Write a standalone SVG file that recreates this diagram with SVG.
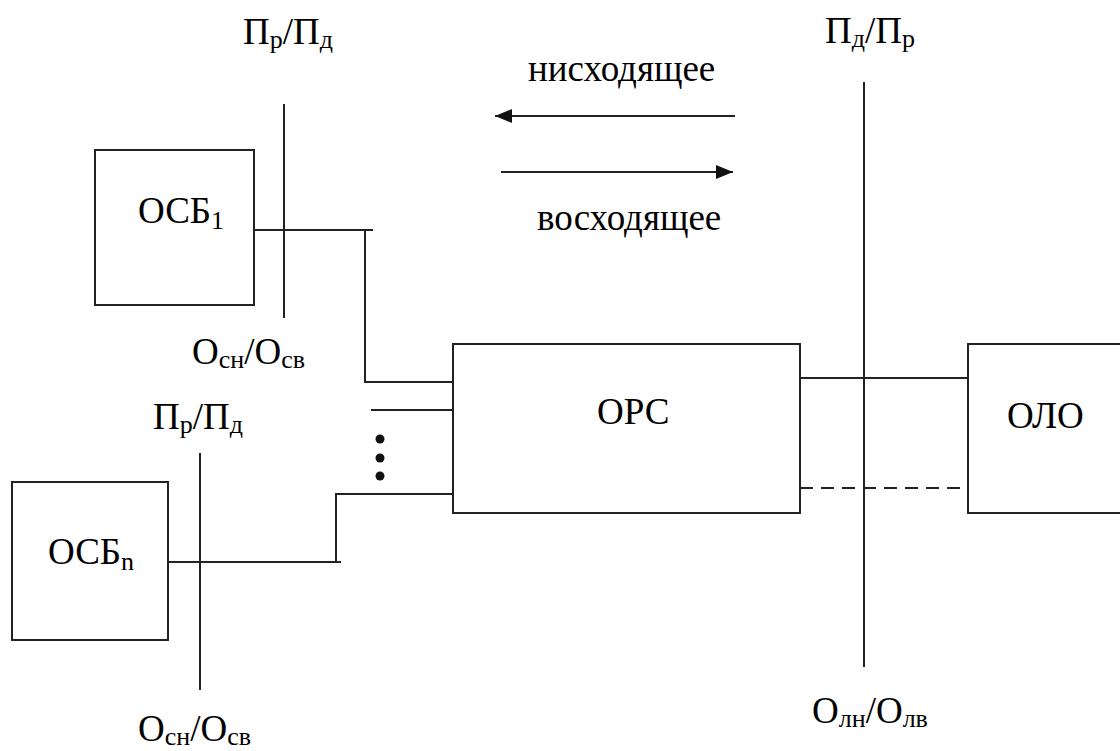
<svg xmlns="http://www.w3.org/2000/svg" width="1120" height="751" viewBox="0 0 1120 751">
<style>
.ln{stroke:#222;stroke-width:2;fill:none}
.bx{stroke:#222;stroke-width:2;fill:#fff}
.dash{stroke-dasharray:13 8}
text{font-family:'Liberation Serif','DejaVu Serif',serif;font-size:37px;fill:#000}
.sub{font-size:26px}
</style>
<defs>
<marker id="ah" markerUnits="userSpaceOnUse" markerWidth="18" markerHeight="16" refX="17" refY="8" orient="auto">
<path d="M0,1 L17,8 L0,15 Z" fill="#111"/>
</marker>
</defs>
<rect width="1120" height="751" fill="#fff"/>
<g id="connectors">
<line class="ln" x1="284" y1="104" x2="284" y2="318"/>
<polyline class="ln" points="252,230 373,230"/>
<polyline class="ln" points="365,230 365,382 453,382"/>
<line class="ln" x1="371" y1="410" x2="453" y2="410"/>
<polyline class="ln" points="453,494 336,494 336,562"/>
<line class="ln" x1="166" y1="562" x2="341" y2="562"/>
<line class="ln" x1="200" y1="453" x2="200" y2="690"/>
<line class="ln" x1="864" y1="82" x2="864" y2="667"/>
<line class="ln" x1="800" y1="378" x2="968" y2="378"/>
<line class="ln dash" x1="800" y1="488" x2="968" y2="488"/>
<line class="ln" x1="735" y1="116" x2="495" y2="116" marker-end="url(#ah)"/>
<line class="ln" x1="501" y1="172" x2="733" y2="172" marker-end="url(#ah)"/>
<circle cx="380" cy="439" r="4.5" fill="#111"/>
<circle cx="380" cy="458" r="4.5" fill="#111"/>
<circle cx="380" cy="476" r="4.5" fill="#111"/>
</g>
<g id="osb1">
<rect class="bx" x="95" y="150" width="159" height="155"/>
<text x="138" y="223">ОСБ<tspan class="sub" dy="6">1</tspan></text>
</g>
<g id="osbn">
<rect class="bx" x="12" y="482" width="156" height="158"/>
<text x="48" y="564">ОСБ<tspan class="sub" dy="6">n</tspan></text>
</g>
<g id="ors">
<rect class="bx" x="453" y="344" width="347" height="169"/>
<text x="597" y="424">ОРС</text>
</g>
<g id="olo">
<rect class="bx" x="968" y="344" width="170" height="169"/>
<text x="1007" y="428">ОЛО</text>
</g>
<g id="labels">
<text x="243" y="44">П<tspan class="sub" dy="4">р</tspan><tspan dy="-4">/П</tspan><tspan class="sub" dy="4">д</tspan></text>
<text x="153" y="429">П<tspan class="sub" dy="4">р</tspan><tspan dy="-4">/П</tspan><tspan class="sub" dy="4">д</tspan></text>
<text x="825" y="43">П<tspan class="sub" dy="4">д</tspan><tspan dy="-4">/П</tspan><tspan class="sub" dy="4">р</tspan></text>
<text x="528" y="81">нисходящее</text>
<text x="537" y="230">восходящее</text>
<text x="192" y="364">О<tspan class="sub" dy="4">сн</tspan><tspan dy="-4">/О</tspan><tspan class="sub" dy="4">св</tspan></text>
<text x="138" y="741">О<tspan class="sub" dy="4">сн</tspan><tspan dy="-4">/О</tspan><tspan class="sub" dy="4">св</tspan></text>
<text x="812" y="723">О<tspan class="sub" dy="4">лн</tspan><tspan dy="-4">/О</tspan><tspan class="sub" dy="4">лв</tspan></text>
</g>
</svg>
